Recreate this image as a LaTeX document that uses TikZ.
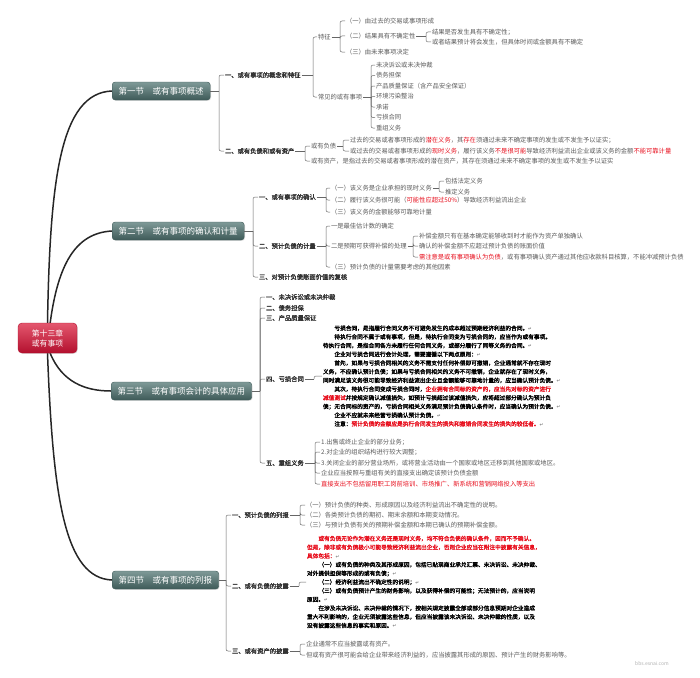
\documentclass[tikz,border=0pt]{standalone}
\usepackage{fontspec}
\setmainfont{Noto Sans CJK SC}[AutoFakeBold=2]
\newfontfamily\djv{DejaVu Sans}
\usetikzlibrary{calc,shadows,backgrounds}
\definecolor{secdark}{HTML}{3E5A58}
\definecolor{seclight}{HTML}{7F9A98}
\definecolor{rootdark}{HTML}{B3102E}
\definecolor{rootlight}{HTML}{E4576E}
\definecolor{leafgray}{HTML}{5A5A5A}
\definecolor{hot}{HTML}{E8101E}
\newcommand\hot[1]{\textcolor{hot}{#1}}
\newcommand\crmark{{\djv\textcolor{gray}{\fontsize{4.5}{4.5}\selectfont ↵}}}
\newcommand\mmbranch[3]{%
  \coordinate (#1-x) at (#2,0);
  \draw[link] (#1.east) -- (#1.east -| #1-x);
  \foreach \ch in {#3}{\draw[link,rounded corners=2pt] (#1.east -| #1-x) |- (\ch.west);}
}
\begin{document}
\begin{tikzpicture}[x=1pt,y=-1pt,
  root/.style={draw=rootdark, rounded corners=4pt, top color=rootlight, bottom color=rootdark,
    text=white, align=center, minimum width=59pt, minimum height=30pt, inner sep=1pt,
    font=\fontsize{7.8}{10}\selectfont, drop shadow={opacity=.25,shadow xshift=.8pt,shadow yshift=-.8pt}},
  sec/.style={draw=secdark, rounded corners=3pt, top color=seclight, bottom color=secdark,
    text=white, anchor=west, minimum height=18pt, inner xsep=6.5pt, inner ysep=1pt,
    font=\fontsize{8.5}{9}\selectfont, drop shadow={opacity=.25,shadow xshift=.8pt,shadow yshift=-.8pt}},
  lvl/.style={anchor=west, inner sep=.8pt, text=black!80, font=\fontsize{6.3}{7}\selectfont\bfseries},
  leaf/.style={anchor=west, inner sep=.8pt, text=leafgray, font=\fontsize{6.3}{7}\selectfont},
  para/.style={anchor=west, align=left, inner sep=.8pt, text=black, font=\fontsize{5.7}{8.7}\selectfont\bfseries},
  link/.style={draw=black!60, line width=.5pt},
  trunk/.style={draw=black!85, line width=1.5pt, line cap=round},
]
\begin{scope}[on background layer]
\fill[white] (0,0) rectangle (700,677);
\end{scope}
\useasboundingbox (0,0) rectangle (700,677);

\node[root] (root) at (47.5,338) {第十三章\\或有事项};

\node[sec] (s1) at (112,91) {第一节　或有事项概述};
\node[lvl] (s1a) at (224,75) {一、或有事项的概念和特征};
\node[lvl] (s1b) at (224,151) {二、或有负债和或有资产};
\node[leaf] (s1a1) at (317,37) {特征};
\node[leaf] (s1a2) at (317,97) {常见的或有事项};
\node[leaf] (f1) at (345,21) {（一）由过去的交易或事项形成};
\node[leaf] (f2) at (345,36) {（二）结果具有不确定性};
\node[leaf] (f3) at (345,52) {（三）由未来事项决定};
\node[leaf] (f2a) at (431,32) {结果是否发生具有不确定性；};
\node[leaf] (f2b) at (431,42) {或者结果预计将会发生，但具体时间或金额具有不确定};
\node[leaf] (k1) at (375,65) {未决诉讼或未决仲裁};
\node[leaf] (k2) at (375,75.5) {债务担保};
\node[leaf] (k3) at (375,86) {产品质量保证（含产品安全保证）};
\node[leaf] (k4) at (375,96.5) {环境污染整治};
\node[leaf] (k5) at (375,107) {承诺};
\node[leaf] (k6) at (375,117.5) {亏损合同};
\node[leaf] (k7) at (375,128) {重组义务};
\node[leaf] (s1b1) at (310,146) {或有负债};
\node[leaf] (s1b2) at (310,161) {或有资产，是指过去的交易或者事项形成的潜在资产，其存在须通过未来不确定事项的发生或不发生予以证实};
\node[leaf] (d1) at (349,140) {过去的交易或者事项形成的\hot{潜在义务}，其\hot{存在}须通过未来不确定事项的发生或不发生予以证实；};
\node[leaf] (d2) at (349,151) {或过去的交易或者事项形成的\hot{现时义务}，履行该义务\hot{不是很可能}导致经济利益流出企业或该义务的金额\hot{不能可靠计量}};

\node[sec] (s2) at (112,231) {第二节　或有事项的确认和计量};
\node[lvl] (s2a) at (258,197) {一、或有事项的确认};
\node[lvl] (s2b) at (258,246) {二、预计负债的计量};
\node[lvl] (s2c) at (258,277) {三、对预计负债账面价值的复核};
\node[leaf] (r1) at (330,188) {（一）该义务是企业承担的现时义务};
\node[leaf] (r2) at (330,200) {（二）履行该义务很可能（\hot{可能性应超过50\%}）导致经济利益流出企业};
\node[leaf] (r3) at (330,212) {（三）该义务的金额能够可靠地计量};
\node[leaf] (r1a) at (444,181) {包括法定义务};
\node[leaf] (r1b) at (444,192) {推定义务};
\node[leaf] (m1) at (330,226) {一是最佳估计数的确定};
\node[leaf] (m2) at (330,246) {二是预期可获得补偿的处理};
\node[leaf] (m3) at (330,267) {（三）预计负债的计量需要考虑的其他因素};
\node[leaf] (m2a) at (418,236) {补偿金额只有在基本确定能够收到时才能作为资产单独确认};
\node[leaf] (m2b) at (418,246) {确认的补偿金额不应超过预计负债的账面价值};
\node[leaf] (m2c) at (418,257) {\hot{需注意是或有事项确认为负债}，或有事项确认资产通过其他应收款科目核算，不能冲减预计负债};

\node[sec] (s3) at (111,391) {第三节　或有事项会计的具体应用};
\node[lvl] (s3a) at (265,297) {一、未决诉讼或未决仲裁};
\node[lvl] (s3b) at (265,308) {二、债务担保};
\node[lvl] (s3c) at (265,318) {三、产品质量保证};
\node[lvl] (s3d) at (265,379) {四、亏损合同};
\node[lvl] (s3e) at (265,463) {五、重组义务};
\node[para] (p1) at (322,376) {%
\hspace*{2em}亏损合同，是指履行合同义务不可避免发生的成本超过预期经济利益的合同。\crmark\\
\hspace*{2em}待执行合同不属于或有事项，但是，待执行合同变为亏损合同的，应当作为或有事项。\\
待执行合同，是指合同各方未履行任何合同义务，或部分履行了同等义务的合同。\crmark\\
\hspace*{2em}企业对亏损合同进行会计处理，需要遵循以下两点原则：\crmark\\
\hspace*{2em}首先，如果与亏损合同相关的义务不需支付任何补偿即可撤销，企业通常就不存在现时\\
义务，不应确认预计负债；如果与亏损合同相关的义务不可撤销，企业就存在了现时义务，\\
同时满足该义务很可能导致经济利益流出企业且金额能够可靠地计量的，应当确认预计负债。\crmark\\
\hspace*{2em}其次，待执行合同变成亏损合同时，\hot{企业拥有合同标的资产的，应当先对标的资产进行}\\
\hot{减值测试}并按规定确认减值损失，如预计亏损超过该减值损失，应将超过部分确认为预计负\\
债；无合同标的资产的，亏损合同相关义务满足预计负债确认条件时，应当确认为预计负债。\crmark\\
\hspace*{2em}企业不应就未来经营亏损确认预计负债。\crmark\\
\hspace*{2em}注意：\hot{预计负债的金额应是执行合同发生的损失和撤销合同发生的损失的较低者。}\crmark};
\node[leaf] (g1) at (320,442) {1.出售或终止企业的部分业务；};
\node[leaf] (g2) at (320,452) {2.对企业的组织结构进行较大调整；};
\node[leaf] (g3) at (320,463) {3.关闭企业的部分营业场所，或将营业活动由一个国家或地区迁移到其他国家或地区。};
\node[leaf] (g4) at (320,473) {企业应当按照与重组有关的直接支出确定该预计负债金额};
\node[leaf] (g5) at (320,484) {\hot{直接支出不包括留用职工岗前培训、市场推广、新系统和营销网络投入等支出}};

\node[sec] (s4) at (112,580) {第四节　或有事项的列报};
\node[lvl] (s4a) at (231,515) {一、预计负债的列报};
\node[lvl] (s4b) at (231,586) {二、或有负债的披露};
\node[lvl] (s4c) at (231,651) {三、或有资产的披露};
\node[leaf] (e1) at (305,505) {（一）预计负债的种类、形成原因以及经济利益流出不确定性的说明。};
\node[leaf] (e2) at (305,515) {（二）各类预计负债的期初、期末余额和本期变动情况。};
\node[leaf] (e3) at (305,525) {（三）与预计负债有关的预期补偿金额和本期已确认的预期补偿金额。};
\node[para] (p2) at (306,582) {%
\hspace*{2em}\hot{或有负债无论作为潜在义务还是现时义务，均不符合负债的确认条件，因而不予确认。}\\
\hot{但是，除非或有负债极小可能导致经济利益流出企业，否则企业应当在附注中披露有关信息，}\\
\hot{具体包括：}\crmark\\
\hspace*{2em}（一）或有负债的种类及其形成原因，包括已贴现商业承兑汇票、未决诉讼、未决仲裁、\\
对外提供担保等形成的或有负债；\crmark\\
\hspace*{2em}（二）经济利益流出不确定性的说明；\crmark\\
\hspace*{2em}（三）或有负债预计产生的财务影响，以及获得补偿的可能性；无法预计的，应当说明\\
原因。\crmark\\
\hspace*{2em}在涉及未决诉讼、未决仲裁的情况下，按相关规定披露全部或部分信息预期对企业造成\\
重大不利影响的，企业无须披露这些信息，但应当披露该未决诉讼、未决仲裁的性质，以及\\
没有披露这些信息的事实和原因。\crmark};
\node[leaf] (h1) at (305,644) {企业通常不应当披露或有资产。};
\node[leaf] (h2) at (305,655) {但或有资产很可能会给企业带来经济利益的，应当披露其形成的原因、预计产生的财务影响等。};

\node[text=black!30, font=\fontsize{5}{5}\selectfont] (wm) at (652,664) {bbs.esnai.com};

\begin{scope}[on background layer]
\draw[trunk] (root.north) .. controls (50,180) and (60,93) .. (s1.west);
\draw[trunk] (root.80) .. controls (58,265) and (75,233) .. (s2.west);
\draw[trunk] (root.-80) .. controls (62,382) and (85,391) .. (s3.west);
\draw[trunk] (root.south) .. controls (53,500) and (65,578) .. (s4.west);
\end{scope}

\mmbranch{s1}{219}{s1a,s1b}
\mmbranch{s1a}{313}{s1a1,s1a2}
\mmbranch{s1a1}{340}{f1,f2,f3}
\mmbranch{f2}{426}{f2a,f2b}
\mmbranch{s1a2}{371}{k1,k2,k3,k4,k5,k6,k7}
\mmbranch{s1b}{305}{s1b1,s1b2}
\mmbranch{s1b1}{343}{d1,d2}
\mmbranch{s2}{253}{s2a,s2b,s2c}
\mmbranch{s2a}{326}{r1,r2,r3}
\mmbranch{r1}{439}{r1a,r1b}
\mmbranch{s2b}{326}{m1,m2,m3}
\mmbranch{m2}{413}{m2a,m2b,m2c}
\mmbranch{s3}{260}{s3a,s3b,s3c,s3d,s3e}
\mmbranch{s3d}{314}{p1}
\mmbranch{s3e}{315}{g1,g2,g3,g4,g5}
\mmbranch{s4}{226}{s4a,s4b,s4c}
\mmbranch{s4a}{300}{e1,e2,e3}
\mmbranch{s4b}{299}{p2}
\mmbranch{s4c}{300}{h1,h2}
\end{tikzpicture}
\end{document}
